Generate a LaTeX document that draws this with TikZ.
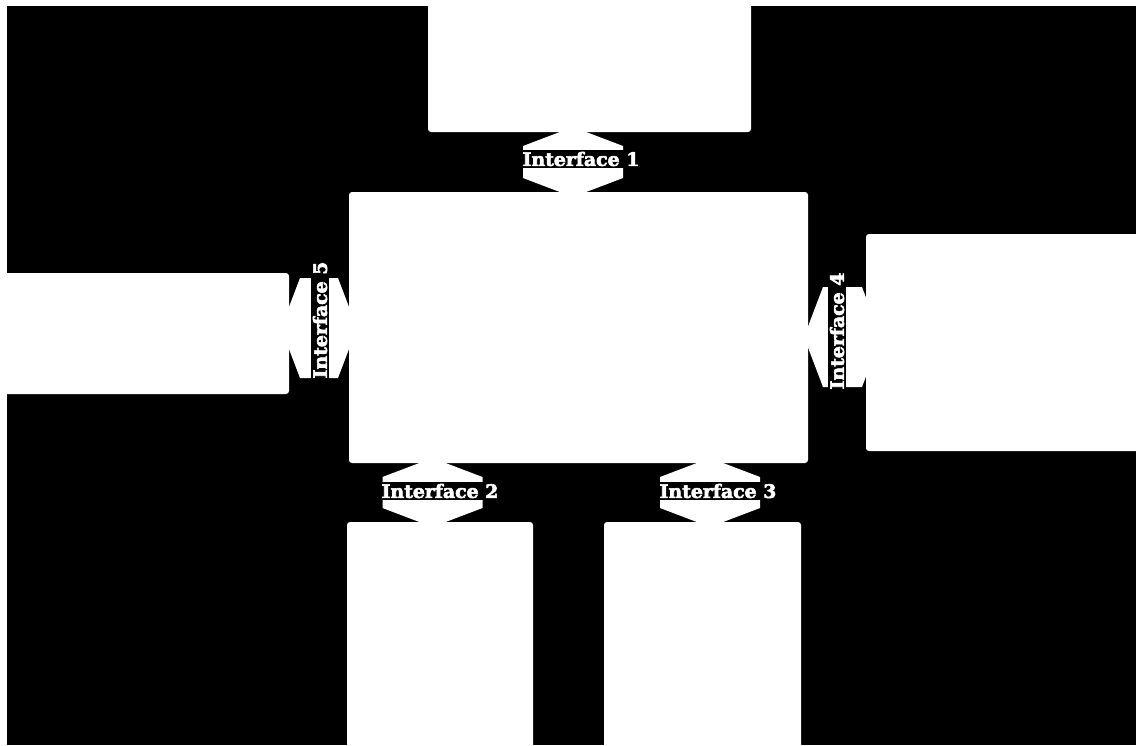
\documentclass[tikz,border=0pt]{standalone}
\usepackage{fontspec}
\newfontfamily\ifont{DejaVu Serif}[FakeStretch=1.02,FakeBold=3]
\usetikzlibrary{calc}
\begin{document}
\begin{tikzpicture}[x=1pt,y=-1pt,
  box/.style={fill=white, rounded corners=3pt, inner sep=0pt, outer sep=0pt, anchor=north west},
  iface/.style={fill=white},
  lab/.style={fill=black, text=white, font=\ifont\bfseries\fontsize{18.5}{20}\selectfont, inner xsep=1pt, inner ysep=1.5pt}]
\fill[white] (0,0) rectangle (1136,745);
\useasboundingbox (0,0) rectangle (1136,745);
\fill[black] (7,6) rectangle (1136,745);

% boxes
\node[box, minimum width=323, minimum height=132] (top) at (428,0) {};
\node[box, minimum width=459, minimum height=271] (main) at (349,192) {};
\node[box, minimum width=295, minimum height=121] (left) at (-6,273) {};
\node[box, minimum width=280, minimum height=217] (right) at (866,234) {};
\node[box, minimum width=186, minimum height=235] (bl) at (347,522) {};
\node[box, minimum width=197, minimum height=235] (br) at (604,522) {};

% arrow axes
\coordinate (a1) at (573,0);
\coordinate (a2) at (432.5,0);
\coordinate (a3) at (710,0);
\coordinate (a4) at (0,337);
\coordinate (a5) at (0,328);

% vertical double arrows
\fill[iface] let \p1=($(top.south -| a1)+(0,-5)$), \p2=($(main.north -| a1)+(0,5)$) in
  (\x1,\y1) -- (\x1+50pt,\y1-19pt) -- (\x1+50pt,\y2+19pt) -- (\x2,\y2) -- (\x1-50pt,\y2+19pt) -- (\x1-50pt,\y1-19pt) -- cycle;
\fill[iface] let \p1=($(main.south -| a2)+(0,-5)$), \p2=($(bl.north -| a2)+(0,5)$) in
  (\x1,\y1) -- (\x1+50pt,\y1-19pt) -- (\x1+50pt,\y2+19pt) -- (\x2,\y2) -- (\x1-50pt,\y2+19pt) -- (\x1-50pt,\y1-19pt) -- cycle;
\fill[iface] let \p1=($(main.south -| a3)+(0,-5)$), \p2=($(br.north -| a3)+(0,5)$) in
  (\x1,\y1) -- (\x1+50pt,\y1-19pt) -- (\x1+50pt,\y2+19pt) -- (\x2,\y2) -- (\x1-50pt,\y2+19pt) -- (\x1-50pt,\y1-19pt) -- cycle;

% horizontal double arrows
\fill[iface] let \p1=($(main.east |- a4)+(-4,0)$), \p2=($(right.west |- a4)+(15,0)$) in
  (\x1,\y1) -- (\x1+19pt,\y1+50pt) -- (\x2-19pt,\y1+50pt) -- (\x2,\y2) -- (\x2-19pt,\y1-50pt) -- (\x1+19pt,\y1-50pt) -- cycle;
\fill[iface] let \p1=($(left.east |- a5)+(-8,0)$), \p2=($(main.west |- a5)+(8,0)$) in
  (\x1,\y1) -- (\x1+19pt,\y1+50pt) -- (\x2-19pt,\y1+50pt) -- (\x2,\y2) -- (\x2-19pt,\y1-50pt) -- (\x1+19pt,\y1-50pt) -- cycle;

% labels
\node[lab] (l1) at (581,159) {Interface 1};
\node[lab] (l2) at (440,491) {Interface 2};
\node[lab] (l3) at (718,491) {Interface 3};
\node[lab, rotate=90] (l4) at (837,331) {Interface 4};
\node[lab, rotate=90] (l5) at (320,320) {Interface 5};
\end{tikzpicture}
\end{document}
